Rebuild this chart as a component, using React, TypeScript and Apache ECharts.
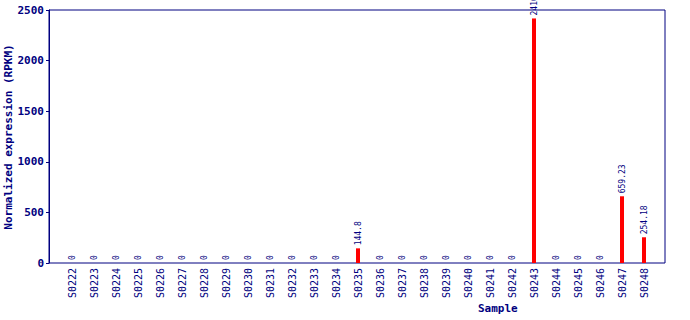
import React, { useEffect, useRef } from "react";
import * as echarts from "echarts";

const categories = [
  "S0222", "S0223", "S0224", "S0225", "S0226", "S0227", "S0228", "S0229", "S0230",
  "S0231", "S0232", "S0233", "S0234", "S0235", "S0236", "S0237", "S0238", "S0239",
  "S0240", "S0241", "S0242", "S0243", "S0244", "S0245", "S0246", "S0247", "S0248",
];
const values = [
  0, 0, 0, 0, 0, 0, 0, 0, 0,
  0, 0, 0, 0, 144.8, 0, 0, 0, 0,
  0, 0, 0, 2416.52, 0, 0, 0, 659.23, 254.18,
];
const yTicks = [0, 500, 1000, 1500, 2000, 2500];
const yTitle = "Normalized expression (RPKM)";
const xTitle = "Sample";

const NAVY = "#000080";
const MONO = "'DejaVu Sans Mono', 'Liberation Mono', monospace";

export default function App() {
  const ref = useRef<HTMLDivElement>(null);
  useEffect(() => {
    if (!ref.current) return;
    const chart = echarts.init(ref.current, undefined, { renderer: "svg" });
    chart.setOption({
      animation: false,
      grid: {
        left: 61,
        top: 10,
        width: 594,
        height: 253,
        containLabel: false,
        outerBoundsMode: "none",
        show: false,
      },
      xAxis: {
        type: "category",
        data: categories,
        axisLine: { show: false },
        axisTick: { show: false },
        axisLabel: {
          rotate: 90,
          color: NAVY,
          fontFamily: MONO,
          fontSize: 10,
          margin: 5,
          interval: 0,
        },
      },
      yAxis: {
        type: "value",
        min: yTicks[0],
        max: yTicks[yTicks.length - 1],
        interval: 500,
        offset: 12,
        splitLine: { show: false },
        axisLine: { show: true, lineStyle: { color: NAVY, width: 1 } },
        axisTick: { show: true, length: 3, lineStyle: { color: NAVY } },
        axisLabel: {
          color: NAVY,
          fontFamily: MONO,
          fontSize: 11,
          fontWeight: "bold",
          margin: 5,
          formatter: (v: number) => String(v),
        },
      },
      graphic: [
        {
          type: "rect",
          shape: { x: 49, y: 10, width: 616, height: 253 },
          style: { fill: "none", stroke: NAVY, lineWidth: 1 },
          silent: true,
          z: 1,
        },
        {
          type: "text",
          x: 8,
          y: 137,
          rotation: Math.PI / 2,
          style: {
            text: yTitle,
            fill: NAVY,
            font: `bold 11px ${MONO}`,
            align: "center",
            verticalAlign: "middle",
          },
        },
        {
          type: "text",
          left: 478,
          top: 303,
          style: {
            text: xTitle,
            fill: NAVY,
            font: `bold 11px ${MONO}`,
          },
        },
      ],
      series: [
        {
          type: "bar",
          data: values,
          barWidth: 4,
          itemStyle: { color: "#ff0000" },
          z: 3,
          label: {
            show: true,
            position: "top",
            rotate: 90,
            align: "left",
            verticalAlign: "middle",
            distance: 3,
            color: NAVY,
            fontFamily: MONO,
            fontSize: 8,
            formatter: (p: any) => String(p.value),
          },
        },
      ],
    });
    return () => chart.dispose();
  }, []);
  return (
    <div
      ref={ref}
      style={{ position: "absolute", left: 0, top: 0, width: 690, height: 320, background: "#fff" }}
    />
  );
}
